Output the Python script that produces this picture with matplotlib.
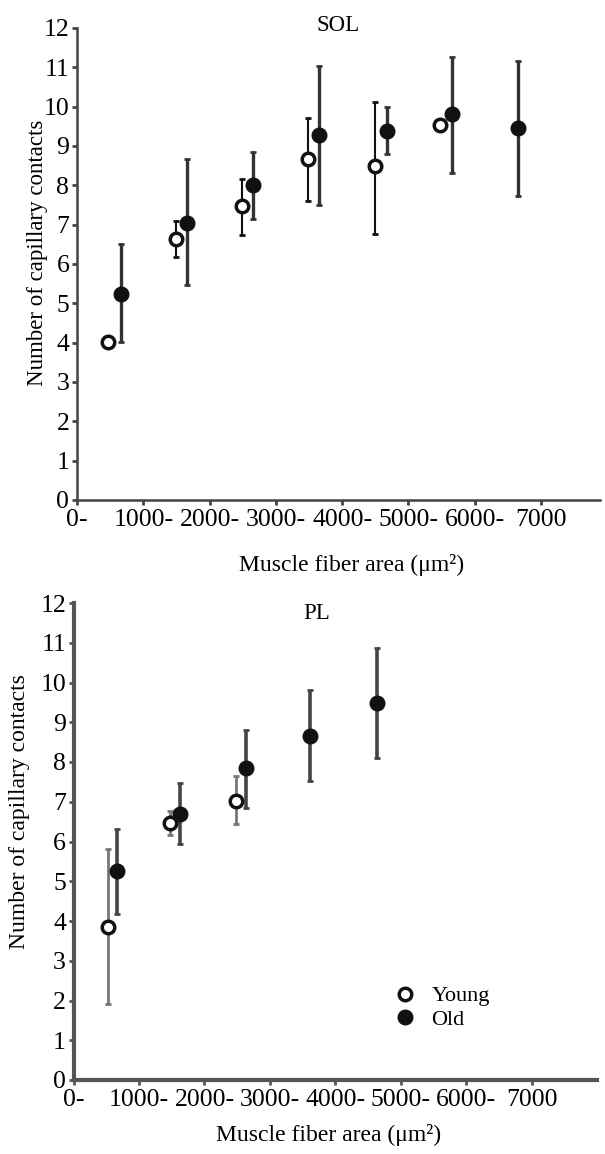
import numpy as np
import matplotlib
matplotlib.use("Agg")
import matplotlib.pyplot as plt
from matplotlib.lines import Line2D

plt.rcParams['font.family'] = ['Liberation Serif', 'DejaVu Serif']

# x tick categories (muscle fiber area bins)
bin_starts = [0, 1000, 2000, 3000, 4000, 5000, 6000, 7000]
bin_labels = ["0-", "1000-", "2000-", "3000-", "4000-", "5000-", "6000-", "7000"]

# SOL panel
sol_young_x = [470, 1490, 2490, 3480, 4490, 5470]
sol_young_y = [4.02, 6.63, 7.47, 8.67, 8.50, 9.53]
sol_young_lo = [4.00, 6.17, 6.74, 7.60, 6.76, 9.53]
sol_young_hi = [4.05, 7.10, 8.16, 9.72, 10.13, 9.53]

sol_old_x = [660, 1660, 2650, 3650, 4680, 5660, 6650]
sol_old_y = [5.25, 7.05, 8.01, 9.28, 9.38, 9.81, 9.45]
sol_old_lo = [4.01, 5.46, 7.14, 7.50, 8.80, 8.31, 7.74]
sol_old_hi = [6.51, 8.68, 8.86, 11.03, 9.98, 11.26, 11.15]

# PL panel
pl_young_x = [520, 1470, 2480]
pl_young_y = [3.86, 6.46, 7.01]
pl_young_lo = [1.91, 6.17, 6.44]
pl_young_hi = [5.81, 6.77, 7.65]

pl_old_x = [660, 1630, 2630, 3620, 4640]
pl_old_y = [5.26, 6.70, 7.85, 8.66, 9.48]
pl_old_lo = [4.17, 5.94, 6.84, 7.53, 8.11]
pl_old_hi = [6.31, 7.47, 8.81, 9.82, 10.87]

fig = plt.figure(figsize=(6.05, 11.54), dpi=100)

W, H = 605.0, 1154.0


def make_axes(left, right, top, bottom):
    return fig.add_axes([left / W, 1 - bottom / H, (right - left) / W, (bottom - top) / H])


def style_axes(ax, xmax, spine_color, spine_w):
    ax.set_xlim(0, xmax)
    ax.set_ylim(0, 12)
    ax.set_yticks(range(0, 13))
    ax.set_xticks(bin_starts)
    ax.set_xticklabels(bin_labels)
    for s in ['top', 'right']:
        ax.spines[s].set_visible(False)
    for s in ['left', 'bottom']:
        ax.spines[s].set_color(spine_color)
        ax.spines[s].set_linewidth(spine_w)
    ax.tick_params(axis='both', direction='out', length=3.5, width=2,
                   color=spine_color, labelsize=18.5, pad=2)
    ax.tick_params(axis='x', pad=3)


def draw(ax, x, y, lo, hi, filled, ecolor, elw):
    y = np.array(y)
    err = [y - np.array(lo), np.array(hi) - y]
    ax.errorbar(x, y, yerr=err, fmt='none', ecolor=ecolor, elinewidth=elw,
                capsize=2.5, capthick=2, zorder=2)
    if filled:
        ax.plot(x, y, 'o', ms=10.5, mfc='#111111', mec='#111111', zorder=3)
    else:
        ax.plot(x, y, 'o', ms=9, mfc='white', mec='#111111', mew=2.5, zorder=4)


xlabel = "Muscle fiber area (\u03bcm\u00b2)"
ylabel = "Number of capillary contacts"

# top panel: SOL
ax1 = make_axes(77, 600, 28, 500)
style_axes(ax1, 7890, '#444444', 1.8)
draw(ax1, sol_old_x, sol_old_y, sol_old_lo, sol_old_hi, True, '#333333', 2.4)
draw(ax1, sol_young_x, sol_young_y, sol_young_lo, sol_young_hi, False, '#111111', 1.5)
ax1.text(0.5, 1.006, "SOL", transform=ax1.transAxes, ha='center', va='center', fontsize=16.5)
fig.text(352 / W, 1 - 565 / H, xlabel, ha='center', va='center', fontsize=17)
fig.text(38 / W, 1 - 253 / H, ylabel, rotation=90, ha='center', va='center', fontsize=16.5)

# bottom panel: PL
ax2 = make_axes(73.6, 597, 603, 1080)
style_axes(ax2, 8000, '#555555', 3.0)
draw(ax2, pl_old_x, pl_old_y, pl_old_lo, pl_old_hi, True, '#444444', 2.6)
draw(ax2, pl_young_x, pl_young_y, pl_young_lo, pl_young_hi, False, '#777777', 2.0)
ax2.text(0.465, 0.979, "PL", transform=ax2.transAxes, ha='center', va='center', fontsize=16.5)
fig.text(329 / W, 1 - 1135 / H, xlabel, ha='center', va='center', fontsize=17)
fig.text(20 / W, 1 - 812 / H, ylabel, rotation=90, ha='center', va='center', fontsize=17)

handles = [
    Line2D([], [], ls='none', marker='o', ms=9, mfc='white', mec='#111111', mew=2.5),
    Line2D([], [], ls='none', marker='o', ms=10.5, mfc='#111111', mec='#111111'),
]
ax2.legend(handles, ["Young", "Old"], loc='center left', bbox_to_anchor=(0.59, 0.151),
           frameon=False, fontsize=16, handlelength=1.0, handletextpad=0.7,
           labelspacing=0.15, borderpad=0)

fig.savefig("out.png", dpi=100)
